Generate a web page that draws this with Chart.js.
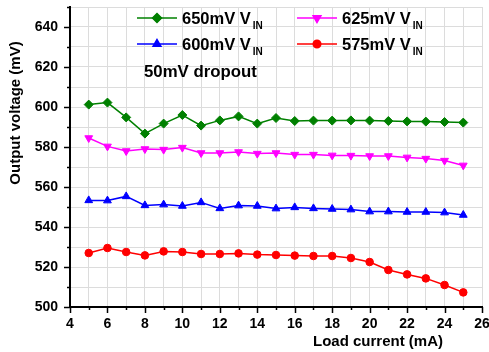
<!DOCTYPE html>
<html>
<head>
<meta charset="utf-8">
<script src="https://cdn.jsdelivr.net/npm/chart.js@4"></script>
<style>
html,body{margin:0;padding:0;background:#fff;}
#wrap{width:489px;height:352px;}
</style>
</head>
<body>
<div id="wrap"><canvas id="c" width="489" height="352"></canvas></div>
<script>
const currents = [5,6,7,8,9,10,11,12,13,14,15,16,17,18,19,20,21,22,23,24,25];
const v650 = [601.2,602.2,594.8,586.7,591.7,596.0,590.7,593.3,595.3,591.7,594.5,593.0,593.2,593.2,593.3,593.2,593.0,592.8,592.7,592.5,592.2];
const v625 = [584.5,580.3,578.0,579.0,578.7,579.7,577.0,577.0,577.5,576.7,577.0,576.2,576.2,575.8,575.7,575.5,575.5,574.8,574.2,573.2,570.8];
const v600 = [553.3,553.2,555.3,550.8,551.2,550.5,552.3,549.3,550.7,550.5,549.2,549.8,549.3,549.0,548.7,547.7,547.7,547.5,547.5,547.2,546.0];
const v575 = [527.0,529.5,527.5,525.8,527.8,527.5,526.5,526.5,526.8,526.2,526.0,525.7,525.5,525.5,524.5,522.5,518.5,516.3,514.3,511.0,507.3];
const seriesNames = ['650mV V','625mV V','600mV V','575mV V'];
const xTickLabels = [4,6,8,10,12,14,16,18,20,22,24,26];
const yTickLabels = [500,520,540,560,580,600,620,640];

const FONT = '"Liberation Sans", Arial, sans-serif';
const pts = arr => currents.map((x,i)=>({x:x,y:arr[i]}));

function ds(label, arr, color, style, rot, r){
  return {label:label, data:pts(arr), borderColor:color, backgroundColor:color,
    pointBackgroundColor:color, pointBorderColor:color, pointStyle:style,
    pointRotation:rot, pointRadius:r, pointHoverRadius:r, borderWidth:1.5, pointBorderWidth:1, tension:0};
}
const datasets = [
  ds(seriesNames[0], v650, '#008000', 'rectRot', 0, 4.5),
  ds(seriesNames[1], v625, '#ff00ff', 'triangle', 180, 4.5),
  ds(seriesNames[2], v600, '#0000ff', 'triangle', 0, 4.5),
  ds(seriesNames[3], v575, '#ff0000', 'circle', 0, 3.8)
];

const decor = {
  id:'decor',
  afterDraw(chart){
    const ctx = chart.ctx, xs = chart.scales.x, ys = chart.scales.y;
    const ca = chart.chartArea;
    ctx.save();
    ctx.strokeStyle = '#000'; ctx.lineWidth = 1.5;
    for(let v=4; v<=26; v++){
      const px = Math.round(xs.getPixelForValue(v))+0.5;
      const len = v%2===0 ? 6 : 3;
      ctx.beginPath(); ctx.moveTo(px, ca.bottom); ctx.lineTo(px, ca.bottom+len); ctx.stroke();
    }
    for(let v=500; v<=650; v+=10){
      const py = Math.round(ys.getPixelForValue(v))+0.5;
      const len = v%20===0 ? 6 : 3;
      ctx.beginPath(); ctx.moveTo(ca.left-len, py); ctx.lineTo(ca.left, py); ctx.stroke();
    }
    // axis titles
    ctx.fillStyle = '#000';
    ctx.font = 'bold 15px ' + FONT;
    ctx.textAlign = 'center'; ctx.textBaseline = 'middle';
    ctx.fillText('Load current (mA)', 378, 342);
    ctx.save();
    ctx.translate(16, 113); ctx.rotate(-Math.PI/2);
    ctx.fillText('Output voltage (mV)', 0, 0);
    ctx.restore();
    // legend
    const cols = [{l:137, r:177, t:182},{l:297, r:337, t:342}];
    const rows = [18, 44];
    const order = [[0,0,0],[1,1,0],[2,0,1],[3,1,1]];
    order.forEach(([di,c,r])=>{
      const d = chart.data.datasets[di];
      const y = rows[r], col = cols[c];
      ctx.strokeStyle = d.borderColor; ctx.lineWidth = 1.5;
      ctx.beginPath(); ctx.moveTo(col.l, y); ctx.lineTo(col.r, y); ctx.stroke();
      ctx.fillStyle = d.backgroundColor;
      Chart.helpers.drawPoint(ctx, {pointStyle:d.pointStyle, rotation:d.pointRotation, radius:d.pointRadius, borderWidth:1}, (col.l+col.r)/2, y);
      ctx.fill();
      ctx.fillStyle = '#000';
      ctx.textAlign = 'left'; ctx.textBaseline = 'alphabetic';
      ctx.font = 'bold 16.5px ' + FONT;
      ctx.fillText(d.label, col.t, y+6);
      const w = ctx.measureText(d.label).width;
      ctx.font = 'bold 10px ' + FONT;
      ctx.fillText('IN', col.t + w + 2, y+10.7);
    });
    ctx.font = 'bold 16.8px ' + FONT;
    ctx.textAlign = 'left'; ctx.textBaseline = 'alphabetic';
    ctx.fillText('50mV dropout', 144, 77);
    ctx.restore();
  }
};

new Chart(document.getElementById('c'), {
  type:'line',
  data:{datasets:datasets},
  options:{
    responsive:false, animation:false, devicePixelRatio:1,
    layout:{padding:{top:7, right:7, left:0, bottom:0}},
    plugins:{legend:{display:false}, tooltip:{enabled:false}},
    scales:{
      x:{type:'linear', min:4, max:26,
        ticks:{stepSize:1, autoSkip:false, maxRotation:0, padding:9,
          font:{family:FONT, size:14, weight:'bold'}, color:'#000',
          callback:v=> xTickLabels.includes(v) ? String(v) : ''},
        grid:{color:'#dcdcdc', lineWidth:1, drawTicks:false},
        border:{display:true, color:'#000', width:2},
        afterFit(s){ s.height = 45; s.paddingLeft = 0; s.paddingRight = 0; }
      },
      y:{type:'linear', min:500, max:650,
        ticks:{stepSize:10, autoSkip:false, padding:12,
          font:{family:FONT, size:14, weight:'bold'}, color:'#000',
          callback:v=> yTickLabels.includes(v) ? String(v) : ''},
        grid:{color:'#dcdcdc', lineWidth:1, drawTicks:false},
        border:{display:true, color:'#000', width:2},
        afterFit(s){ s.width = 70; s.paddingTop = 0; s.paddingBottom = 0; }
      }
    }
  },
  plugins:[decor]
});
</script>
</body>
</html>
